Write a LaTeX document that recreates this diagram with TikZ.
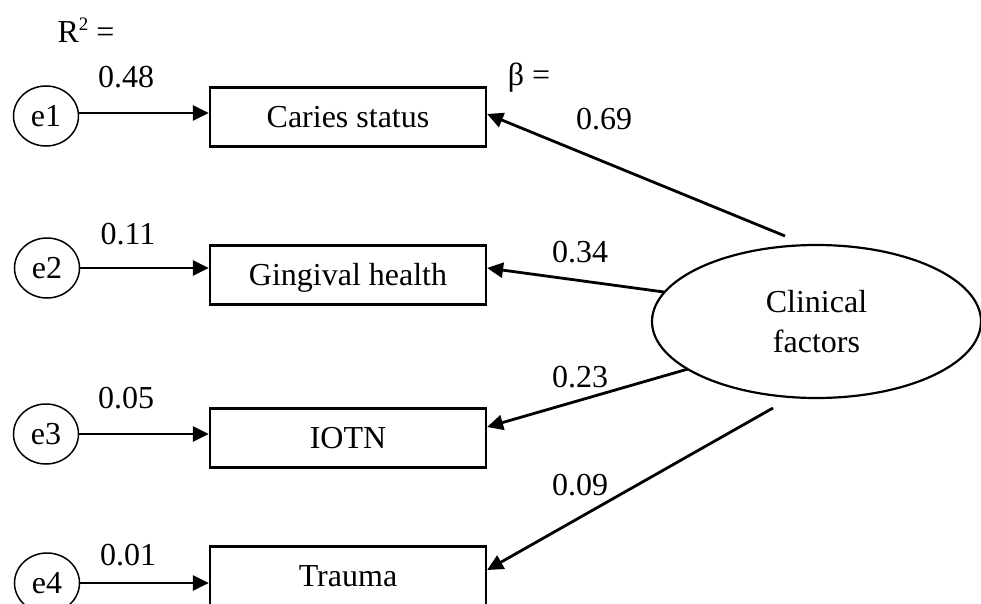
\documentclass[tikz,border=0pt]{standalone}
\usepackage{fontspec}
\setmainfont{Liberation Serif}
\usetikzlibrary{arrows.meta,shapes.geometric}

\tikzset{
  lbl/.style={inner sep=0pt, anchor=base, font=\fontsize{32}{40}\selectfont},
  errnode/.style={ellipse, draw, line width=1.5pt, minimum width=65pt, minimum height=60pt,
    inner sep=0pt, font=\fontsize{32}{40}\selectfont},
  obsbox/.style={rectangle, draw, line width=2.2pt, minimum width=276pt, minimum height=59pt,
    inner sep=0pt, text height=21pt, text depth=0pt, font=\fontsize{32}{40}\selectfont},
  latent/.style={ellipse, draw, line width=2.2pt, minimum width=329pt, minimum height=153pt,
    inner sep=0pt, align=center, font=\fontsize{32}{40}\selectfont},
  arr/.style={line width=2.8pt, -{Triangle[length=16pt,width=15pt]}}
}

\begin{document}
\begin{tikzpicture}[x=1pt, y=-1pt]
  \useasboundingbox (0,0) rectangle (981,604);
  \clip (0,0) rectangle (981,604);

  % error terms
  \node[errnode] (e1) at (46,116) {e1};
  \node[errnode] (e2) at (47,268) {e2};
  \node[errnode] (e3) at (46,434) {e3};
  \node[errnode] (e4) at (47,583) {e4};

  % observed indicators
  \node[obsbox] (car) at (348,117) {Caries status};
  \node[obsbox] (gin) at (348,275) {Gingival health};
  \node[obsbox] (iot) at (348,438) {IOTN};
  \node[obsbox] (tra) at (348,576) {Trauma};

  % latent construct
  \node[latent] (cf) at (816.5,321.5) {Clinical\\factors};

  % loose ends of the loading paths
  \coordinate (s1) at (785,236);
  \coordinate (s2) at (664,292);
  \coordinate (s3) at (688,369);
  \coordinate (s4) at (773,408);

  % error paths
  \draw[arr] ([yshift=3pt]e1.east) -- ([yshift=3pt]e1.east -| car.west);
  \draw[arr] (e2.east) -- (e2.east -| gin.west);
  \draw[arr] (e3.east) -- (e3.east -| iot.west);
  \draw[arr] (e4.east) -- (e4.east -| tra.west);

  % loading paths
  \draw[arr] (s1) -- ([yshift=3pt]car.east);
  \draw[arr] (s2) -- ([yshift=7pt]gin.east);
  \draw[arr] (s3) -- ([yshift=11pt]iot.east);
  \draw[arr] (s4) -- ([yshift=6pt]tra.east);

  % R-squared values
  \node[lbl] (r2) at (86,43) {R\raisebox{12pt}{\fontsize{19}{20}\selectfont 2} =};
  \node[lbl] (r2a) at (126,88) {0.48};
  \node[lbl] (r2b) at (128,244) {0.11};
  \node[lbl] (r2c) at (126,408) {0.05};
  \node[lbl] (r2d) at (128,565) {0.01};

  % standardized loadings
  \node[lbl] (beta) at (529,86) {β =};
  \node[lbl] (b1) at (604,130) {0.69};
  \node[lbl] (b2) at (580,262) {0.34};
  \node[lbl] (b3) at (580,387) {0.23};
  \node[lbl] (b4) at (580,495) {0.09};
\end{tikzpicture}
\end{document}
